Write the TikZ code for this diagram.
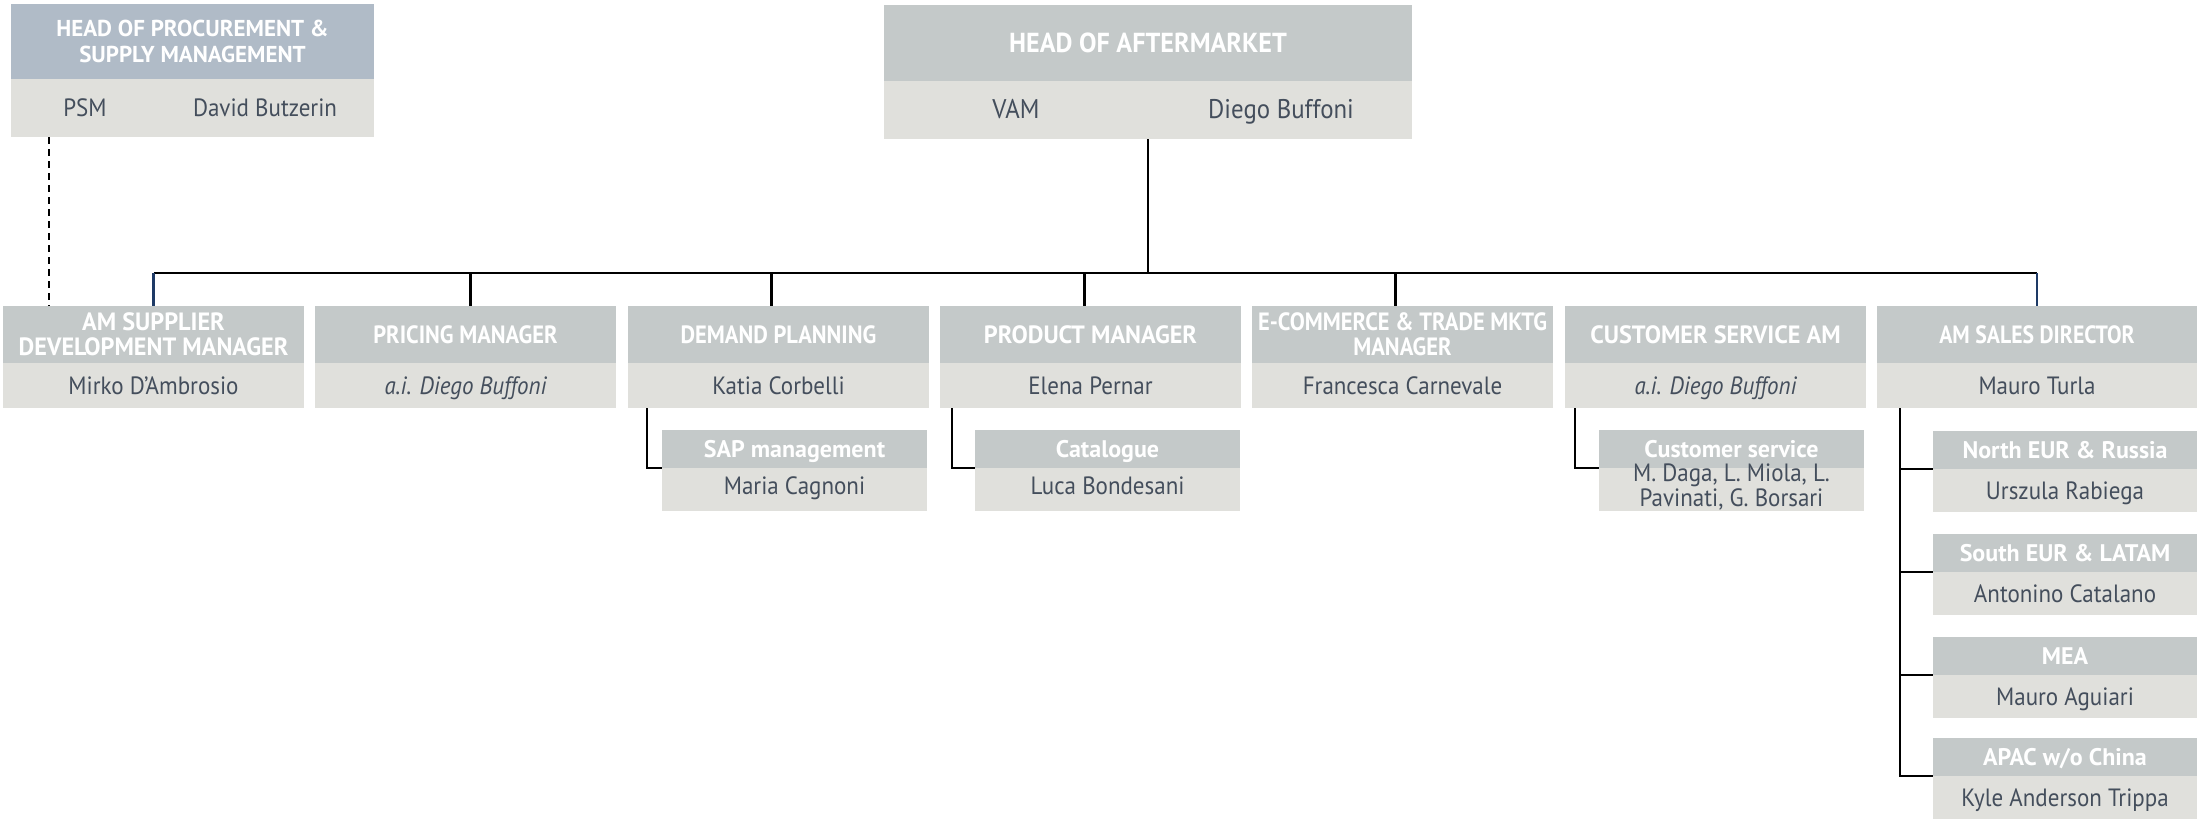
\documentclass[tikz,border=0pt]{standalone}
\usepackage{fontspec}
\setmainfont{PT Sans}
% condensed cuts for titles and names
\newfontfamily\topfont[FakeStretch=0.95]{PT Sans}
\newfontfamily\hdnarrow[FakeStretch=0.87]{PT Sans}
\newfontfamily\hdmid[FakeStretch=0.9]{PT Sans}
\newfontfamily\hdwide[FakeStretch=0.97]{PT Sans}
\newfontfamily\namefont[FakeStretch=0.92]{PT Sans}

\definecolor{hdgray}{RGB}{196,201,201}
\definecolor{hdblue}{RGB}{176,187,199}
\definecolor{bdgray}{RGB}{224,224,220}
\definecolor{txtslate}{RGB}{68,78,92}
\definecolor{lnblue}{RGB}{30,58,102}

\tikzset{
  box/.style={anchor=north west, inner sep=0pt, outer sep=0pt, draw=none},
  hd/.style={box, fill=hdgray, text=white},
  bd/.style={box, fill=bdgray, text=txtslate},
  % second level
  lhead/.style={hd, minimum width=301pt, minimum height=57pt,
    font=\hdmid\bfseries\fontsize{25}{25}\selectfont, text height=17.5pt, text depth=0pt},
  lheadtwo/.style={hd, minimum width=301pt, minimum height=57pt, align=center,
    font=\hdmid\bfseries\fontsize{25}{25}\selectfont},
  lbody/.style={bd, minimum width=301pt, minimum height=45pt,
    font=\namefont\fontsize{25}{26}\selectfont, text height=17.5pt, text depth=0pt},
  % third level
  shead/.style={hd, minimum width=265pt, minimum height=38pt,
    font=\bfseries\fontsize{24}{26}\selectfont, text height=16.8pt, text depth=0pt},
  sbody/.style={bd, minimum width=265pt, minimum height=43pt,
    font=\namefont\fontsize{25}{26}\selectfont, text height=17.5pt, text depth=0pt},
  sbodyup/.style={sbody, text depth=8pt},
  nametxt/.style={inner sep=0pt, text=txtslate, text height=17.5pt, text depth=0pt,
    font=\namefont\fontsize{25}{26}\selectfont},
  conn/.style={line width=2.6pt, black},
  connblue/.style={line width=2.6pt, lnblue},
  dashlink/.style={line width=2pt, black, dash pattern=on 7pt off 5pt}
}

\begin{document}
\begin{tikzpicture}[x=1pt,y=-1pt]
\useasboundingbox (0,0) rectangle (2197,822);

% ---- top level ----
\node[hd, fill=hdblue, minimum width=363pt, minimum height=75pt, align=center,
  font=\bfseries\fontsize{23}{26}\selectfont] (procH) at (11,4)
  {HEAD OF PROCUREMENT \&\\SUPPLY MANAGEMENT};
\node[bd, minimum width=363pt, minimum height=58pt] (procB) at (procH.south west) {};
\node[nametxt] (procRole) at (85,108) {PSM};
\node[nametxt] (procName) at (265,108) {David Butzerin};

\node[hd, minimum width=528pt, minimum height=76pt,
  font=\topfont\bfseries\fontsize{27.5}{30}\selectfont, text height=19.2pt, text depth=0pt]
  (aftH) at (884,5) {HEAD OF AFTERMARKET};
\node[bd, minimum width=528pt, minimum height=58pt] (aftB) at (aftH.south west) {};
\node[nametxt, font=\namefont\fontsize{27}{28}\selectfont, text height=18.9pt] (aftRole) at (1016,109.5) {VAM};
\node[nametxt, font=\namefont\fontsize{27}{28}\selectfont, text height=18.9pt] (aftName) at (1281,109.5) {Diego Buffoni};

% ---- second level ----
\node[lheadtwo, font=\hdwide\bfseries\fontsize{25}{25}\selectfont] (supH) at (3,306)
  {AM SUPPLIER\\DEVELOPMENT MANAGER};
\node[lbody] (supB) at (supH.south west) {Mirko D’Ambrosio};

\node[lhead] (priH) at (315,306) {PRICING MANAGER};
\node[lbody] (priB) at (priH.south west) {\itshape a.i. Diego Buffoni};

\node[lhead] (demH) at (628,306) {DEMAND PLANNING};
\node[lbody] (demB) at (demH.south west) {Katia Corbelli};

\node[lhead, font=\hdwide\bfseries\fontsize{25}{25}\selectfont] (proH) at (940,306) {PRODUCT MANAGER};
\node[lbody] (proB) at (proH.south west) {Elena Pernar};

\node[lheadtwo] (ecoH) at (1252,306) {E-COMMERCE \& TRADE MKTG\\MANAGER};
\node[lbody] (ecoB) at (ecoH.south west) {Francesca Carnevale};

\node[lhead, font=\hdwide\bfseries\fontsize{25}{25}\selectfont] (cusH) at (1565,306) {CUSTOMER SERVICE AM};
\node[lbody] (cusB) at (cusH.south west) {\itshape a.i. Diego Buffoni};

\node[lhead, minimum width=320pt, font=\hdnarrow\bfseries\fontsize{25}{25}\selectfont]
  (salH) at (1877,306) {AM SALES DIRECTOR};
\node[lbody, minimum width=320pt] (salB) at (salH.south west) {Mauro Turla};

% ---- third level ----
\node[shead] (sapH) at (662,430) {SAP management};
\node[sbodyup] (sapB) at (sapH.south west) {Maria Cagnoni};

\node[shead] (catH) at (975,430) {Catalogue};
\node[sbodyup] (catB) at (catH.south west) {Luca Bondesani};

\node[shead] (cssH) at (1599,430) {Customer service};
\node[sbody] (cssB) at (cssH.south west) {};
\node[inner sep=0pt, text=txtslate, align=center, font=\namefont\fontsize{25}{25}\selectfont]
  (cssTxt) at ([yshift=2pt]cssB.center) {M. Daga, L. Miola, L.\\Pavinati, G. Borsari};

\node[shead, minimum width=264pt] (neH) at (1933,431) {North EUR \& Russia};
\node[sbody, minimum width=264pt] (neB) at (neH.south west) {Urszula Rabiega};

\node[shead, minimum width=264pt] (seH) at (1933,534) {South EUR \& LATAM};
\node[sbody, minimum width=264pt] (seB) at (seH.south west) {Antonino Catalano};

\node[shead, minimum width=264pt] (meaH) at (1933,637) {MEA};
\node[sbody, minimum width=264pt] (meaB) at (meaH.south west) {Mauro Aguiari};

\node[shead, minimum width=264pt] (apH) at (1933,738) {APAC w/o China};
\node[sbody, minimum width=264pt] (apB) at (apH.south west) {Kyle Anderson Trippa};

% ---- connectors ----
\coordinate (bus) at (0,273);
\draw[conn] (aftB.south) -- (aftB.south |- bus);
\draw[conn] (supH.north |- bus) -- (salH.north |- bus);
\draw[connblue] (supH.north |- bus) -- (supH.north);
\draw[connblue] (salH.north |- bus) -- (salH.north);
\draw[conn] ([xshift=5pt]priH.north |- bus) -- ([xshift=5pt]priH.north);
\draw[conn] ([xshift=-7pt]demH.north |- bus) -- ([xshift=-7pt]demH.north);
\draw[conn] ([xshift=-6pt]proH.north |- bus) -- ([xshift=-6pt]proH.north);
\draw[conn] ([xshift=-7pt]ecoH.north |- bus) -- ([xshift=-7pt]ecoH.north);

\draw[conn] ([xshift=19pt]demB.south west) |- (sapH.south west);
\draw[conn] ([xshift=12pt]proB.south west) |- (catH.south west);
\draw[conn] ([xshift=10pt]cusB.south west) |- (cssH.south west);
\foreach \n in {neH, seH, meaH, apH}
  \draw[conn] ([xshift=23pt]salB.south west) |- (\n.south west);

\path ([xshift=38pt]procB.south west) coordinate (dashTop);
\draw[dashlink] (dashTop) -- (dashTop |- supH.north);
\end{tikzpicture}
\end{document}
